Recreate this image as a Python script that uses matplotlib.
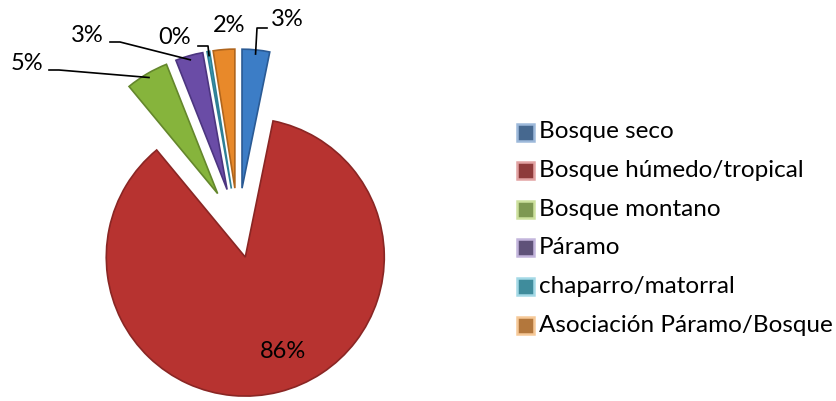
import numpy as np
import matplotlib
matplotlib.use("Agg")
import matplotlib.pyplot as plt
from matplotlib.patches import Rectangle

# data
categories = ["Bosque seco", "Bosque húmedo/tropical", "Bosque montano",
              "Páramo", "chaparro/matorral", "Asociación Páramo/Bosque"]
values = [3.2, 85.8, 5.0, 3.2, 0.3, 2.5]

# styles
pie_colors = ["#3C7DC6", "#B73330", "#86B43C", "#6A4CA6", "#3FA9C5", "#E8892A"]
edge_colors = ["#2A5A94", "#8A2624", "#64872C", "#4C3580", "#2E7F95", "#B0651C"]
legend_colors = ["#46688F", "#8E3A3A", "#7E9852", "#5F5279", "#3F8C9C", "#B3773C"]
legend_edges = ["#9DB9DA", "#E2A3A3", "#CDE19E", "#C3B5DC", "#A4D9E6", "#F6C998"]
explode = [40, 30, 40, 40, 40, 40]  # pixels, pie is drawn in pixel units

# label layout in pixels from top-left: text centre, leader attach point
label_pos = [(287, 19), (283, 351), (27, 63), (87, 35), (175, 38), (229, 25)]
leader_at = [(267, 28), None, (49, 70), (110, 42), (198, 46), None]

W, H = 837, 401
fig = plt.figure(figsize=(W / 100, H / 100), dpi=100)
ax = fig.add_axes([0, 0, 1, 1])

font = ["Lato", "DejaVu Sans"]

wedges, _ = ax.pie(values, colors=pie_colors, explode=explode, startangle=90,
                   counterclock=False, center=(238, H - 228), radius=139,
                   frame=True, wedgeprops=dict(linewidth=1.2))
for w, ec in zip(wedges, edge_colors):
    w.set_edgecolor(ec)
ax.set_xlim(0, W)
ax.set_ylim(0, H)
ax.set_aspect("equal")
ax.axis("off")

total = sum(values)
for i, w in enumerate(wedges):
    txt = f"{values[i] / total * 100:.0f}%"
    lx, ly = label_pos[i]
    ax.text(lx, H - ly, txt, ha="center", va="center", fontsize=17,
            family=font, color="black")
    if leader_at[i] is not None:
        mid = np.deg2rad((w.theta1 + w.theta2) / 2)
        cx, cy = w.center
        axp = cx + 0.97 * w.r * np.cos(mid)
        ayp = cy + 0.97 * w.r * np.sin(mid)
        tx, ty = leader_at[i]
        ty = H - ty
        step = 10 if axp > tx else -10
        ax.plot([tx, tx + step, axp], [ty, ty, ayp], color="black", lw=1.2)

# legend, drawn row by row
row_top, row_step, sq = 132, 38.6, 17
for i, name in enumerate(categories):
    yc = H - (row_top + i * row_step)
    ax.add_patch(Rectangle((517, yc - sq / 2), sq, sq,
                           facecolor=legend_colors[i],
                           edgecolor=legend_edges[i], linewidth=1.8))
    ax.text(539, yc, name, ha="left", va="center", fontsize=17.5,
            family=font, color="black")

fig.savefig("out.png", dpi=100)
